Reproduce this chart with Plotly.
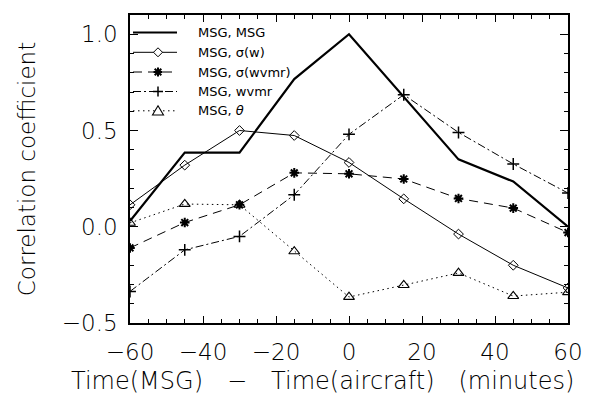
import plotly.graph_objects as go

# Time lag between MSG scene and aircraft measurement (minutes)
lag = [-60, -45, -30, -15, 0, 15, 30, 45, 60]

# Correlation of MSG field with each quantity
corr_msg = [0.03, 0.385, 0.385, 0.767, 1.0, 0.675, 0.35, 0.235, 0.0]
corr_sigma_w = [0.114, 0.32, 0.50, 0.474, 0.334, 0.145, -0.038, -0.20, -0.318]
corr_sigma_wvmr = [-0.11, 0.022, 0.114, 0.28, 0.275, 0.248, 0.147, 0.097, -0.03]
corr_wvmr = [-0.336, -0.12, -0.05, 0.166, 0.48, 0.686, 0.49, 0.326, 0.175]
corr_theta = [0.02, 0.118, 0.114, -0.128, -0.365, -0.303, -0.24, -0.36, -0.34]

names = ["MSG, MSG", "MSG, σ(w)", "MSG, σ(wvmr)", "MSG, wvmr", "MSG, <i>θ</i>"]
series = [corr_msg, corr_sigma_w, corr_sigma_wvmr, corr_wvmr, corr_theta]

x_title = "Time(MSG)\u2003−\u2003Time(aircraft)\u2003(minutes)"
y_title = "Correlation coefficient"

# Line / marker style of each series, plus a pixel path for its key glyph
styles = [
    dict(width=2.2, dash="solid", symbol=None, msize=0, mwidth=0, glyph=None, gwidth=0),
    dict(width=1, dash="solid", symbol="diamond-open", msize=7.5, mwidth=1,
         glyph="M0,4.5L4.5,0L0,-4.5L-4.5,0Z", gwidth=1),
    dict(width=1, dash="9px,6px", symbol="asterisk-open", msize=8, mwidth=2,
         glyph="M-4.5,0L4.5,0M0,-4.5L0,4.5M-3.3,-3.3L3.3,3.3M-3.3,3.3L3.3,-3.3", gwidth=2),
    dict(width=1, dash="8px,3px,2px,3px", symbol="cross-thin-open", msize=8.5, mwidth=1.5,
         glyph="M-5,0L5,0M0,-5L0,5", gwidth=1.5),
    dict(width=1, dash="1.5px,3.5px", symbol="triangle-up-open", msize=9.5, mwidth=1.1,
         glyph="M0,5L5.5,-4.2L-5.5,-4.2Z", gwidth=1.1),
]

FONT = "DejaVu Sans"
W, H = 599, 401
ML, MR, MT, MB = 130, 31, 15, 78
PW, PH = W - ML - MR, H - MT - MB

fig = go.Figure()

for name, vals, st in zip(names, series, styles):
    mode = "lines+markers" if st["symbol"] else "lines"
    kw = {}
    if st["symbol"]:
        kw["marker"] = dict(symbol=st["symbol"], size=st["msize"], color="black",
                            line=dict(width=st["mwidth"], color="black"))
    fig.add_trace(go.Scatter(
        x=lag, y=vals, name=name, mode=mode, showlegend=False,
        line=dict(color="black", width=st["width"], dash=st["dash"]),
        **kw,
    ))


def px_x(p):
    return (p - ML) / PW


def px_y(p):
    return (MT + PH - p) / PH


# Key in the upper-left corner of the plot: line sample, glyph, label
key_x0, key_x1, key_glyph, key_text = 133, 177, 158, 196
key_rows = [32.5, 52.3, 72.0, 91.5, 110.8]

for name, st, row in zip(names, styles, key_rows):
    fig.add_shape(type="line", xref="paper", yref="paper",
                  x0=px_x(key_x0), x1=px_x(key_x1), y0=px_y(row), y1=px_y(row),
                  line=dict(color="black", width=st["width"], dash=st["dash"]))
    if st["glyph"]:
        fig.add_shape(type="path", xref="paper", yref="paper",
                      xsizemode="pixel", ysizemode="pixel",
                      xanchor=px_x(key_glyph), yanchor=px_y(row),
                      path=st["glyph"], fillcolor="white",
                      line=dict(color="black", width=st["gwidth"]))
    fig.add_annotation(xref="paper", yref="paper", x=px_x(key_text), y=px_y(row),
                       xanchor="left", yanchor="middle", showarrow=False,
                       text=name, font=dict(family=FONT, size=13, color="black"))

# x-axis title, centred a little left of the plot centre
fig.add_annotation(xref="paper", yref="paper", x=px_x(322), y=px_y(381),
                   xanchor="center", yanchor="middle", showarrow=False,
                   text=x_title,
                   font=dict(family=FONT, size=24, color="black", weight=200))

axis_common = dict(
    showline=True, linecolor="black", linewidth=1.5, mirror="ticks",
    ticks="inside", tickcolor="black", tickwidth=1.2,
    showgrid=False, zeroline=False,
    tickfont=dict(family=FONT, size=23, color="black", weight=200),
)

fig.update_xaxes(
    range=[-60, 60], tickmode="linear", tick0=-60, dtick=20, ticklen=7,
    ticklabelstandoff=8,
    minor=dict(dtick=5, ticks="inside", ticklen=4, tickcolor="black", tickwidth=1.2),
    **axis_common,
)
fig.update_yaxes(
    range=[-0.5, 1.1], tickmode="linear", tick0=-0.5, dtick=0.5, ticklen=8,
    tickformat=".1f", ticklabelstandoff=6,
    minor=dict(dtick=0.1, ticks="inside", ticklen=4, tickcolor="black", tickwidth=1.2),
    title=dict(text=y_title,
               font=dict(family=FONT, size=23, color="black", weight=200), standoff=20),
    **axis_common,
)

fig.update_layout(
    width=W, height=H,
    margin=dict(l=ML, r=MR, t=MT, b=MB),
    paper_bgcolor="white", plot_bgcolor="white",
    showlegend=False,
)

fig.write_html("out.html")
